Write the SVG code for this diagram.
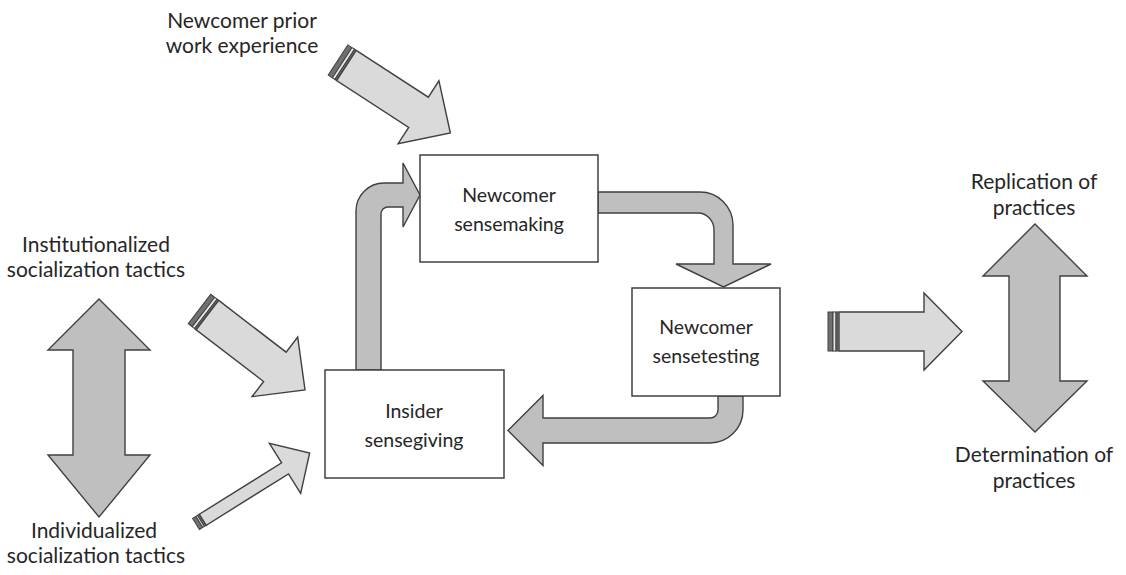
<svg xmlns="http://www.w3.org/2000/svg" width="1126" height="575" viewBox="0 0 1126 575">
<style>
  .box { fill: #ffffff; stroke: #404040; stroke-width: 1.5; }
  .dark { fill: #bfbfbf; stroke: #404040; stroke-width: 1.4; stroke-linejoin: miter; }
  .light { fill: #dadada; stroke: #404040; stroke-width: 1.4; stroke-linejoin: miter; }
  .stripeD { fill: #707070; stroke: #404040; stroke-width: 1; }
  .stripeL { fill: #e8e8e8; stroke: #404040; stroke-width: 1; }
  text { font-family: "Lato", "Liberation Sans", sans-serif; font-size: 21px; fill: #262626; text-anchor: middle; }
  .node text { font-size: 19.5px; }
</style>
<rect x="0" y="0" width="1126" height="575" fill="#ffffff"/>

<g id="connectors">
  <!-- sensegiving -> sensemaking -->
  <path class="dark" d="M356,370 L356,211 A28,28 0 0 1 384,183 L403,183 L403,163 L420,195 L403,227 L403,207 L388,207 A7,7 0 0 0 381,214 L381,370 Z"/>
  <!-- sensemaking -> sensetesting -->
  <path class="dark" d="M598,192 L700,192 A33,33 0 0 1 733,225 L733,264 L771,264 L723.5,287 L676,264 L714,264 L714,230 A16,17 0 0 0 698,213 L598,213 Z"/>
  <!-- sensetesting -> sensegiving -->
  <path class="dark" d="M718,396 L743,396 L743,410 A33,33 0 0 1 710,443 L543,443 L543,465.5 L508,430.5 L543,395.5 L543,418 L710,418 A8,8 0 0 0 718,410 Z"/>
  <!-- sensetesting -> outcomes -->
  <g id="arrow-out">
    <rect class="stripeD" x="828" y="312" width="5" height="39"/>
    <rect class="stripeL" x="833" y="312" width="3" height="39"/>
    <rect class="stripeD" x="836" y="312" width="2" height="39"/>
    <path class="light" d="M839,312 L924,312 L924,293 L962,331.5 L924,370 L924,351 L839,351 Z"/>
  </g>
  <!-- prior work experience -> sensemaking -->
  <g id="arrow-prior" transform="translate(338,60) rotate(33)">
    <rect class="stripeD" x="0" y="-18" width="5" height="36"/>
    <rect class="stripeL" x="5" y="-18" width="3" height="36"/>
    <rect class="stripeD" x="8" y="-18" width="2" height="36"/>
    <path class="light" d="M10,-18 L96,-18 L96,-37.5 L134,0 L96,37.5 L96,18 L10,18 Z"/>
  </g>
  <!-- institutionalized -> sensegiving -->
  <g id="arrow-inst" transform="translate(199.5,309) rotate(37.5)">
    <rect class="stripeD" x="0" y="-18.5" width="5" height="37"/>
    <rect class="stripeL" x="5" y="-18.5" width="3" height="37"/>
    <rect class="stripeD" x="8" y="-18.5" width="2" height="37"/>
    <path class="light" d="M10,-18.5 L95,-18.5 L95,-37.5 L133,0 L95,37.5 L95,18.5 L10,18.5 Z"/>
  </g>
  <!-- individualized -> sensegiving -->
  <g id="arrow-ind" transform="translate(196,524) rotate(-32)">
    <rect class="stripeD" x="0" y="-6.5" width="4" height="13"/>
    <rect class="stripeL" x="4" y="-6.5" width="2" height="13"/>
    <rect class="stripeD" x="6" y="-6.5" width="2" height="13"/>
    <path class="light" d="M8,-6.5 L105,-6.5 L105,-29.5 L134,0 L105,29.5 L105,6.5 L8,6.5 Z"/>
  </g>
  <!-- left double arrow -->
  <path id="dbl-left" class="dark" d="M99,299 L150,350 L125,350 L125,455 L150,455 L99,517 L48,455 L73,455 L73,350 L48,350 Z"/>
  <!-- right double arrow -->
  <path id="dbl-right" class="dark" d="M1035,224 L1087,276 L1060,276 L1060,381 L1087,381 L1035,432 L983,381 L1009,381 L1009,276 L983,276 Z"/>
</g>

<g id="node-sensemaking" class="node">
  <rect class="box" x="420" y="155" width="178" height="107"/>
  <text x="509" y="202">Newcomer</text>
  <text x="509" y="231">sensemaking</text>
</g>
<g id="node-sensetesting" class="node">
  <rect class="box" x="632" y="288" width="148" height="108"/>
  <text x="706" y="334">Newcomer</text>
  <text x="706" y="363">sensetesting</text>
</g>
<g id="node-sensegiving" class="node">
  <rect class="box" x="325" y="370" width="179" height="108"/>
  <text x="414" y="418">Insider</text>
  <text x="414" y="447">sensegiving</text>
</g>

<g id="label-prior">
  <text x="242" y="28">Newcomer prior</text>
  <text x="242" y="53">work experience</text>
</g>
<g id="label-inst">
  <text x="96" y="252">Institutionalized</text>
  <text x="96" y="277">socialization tactics</text>
</g>
<g id="label-ind">
  <text x="94" y="538">Individualized</text>
  <text x="96" y="563">socialization tactics</text>
</g>
<g id="label-replication">
  <text x="1034" y="189">Replication of</text>
  <text x="1034" y="215">practices</text>
</g>
<g id="label-determination">
  <text x="1034" y="462">Determination of</text>
  <text x="1034" y="488">practices</text>
</g>
</svg>
